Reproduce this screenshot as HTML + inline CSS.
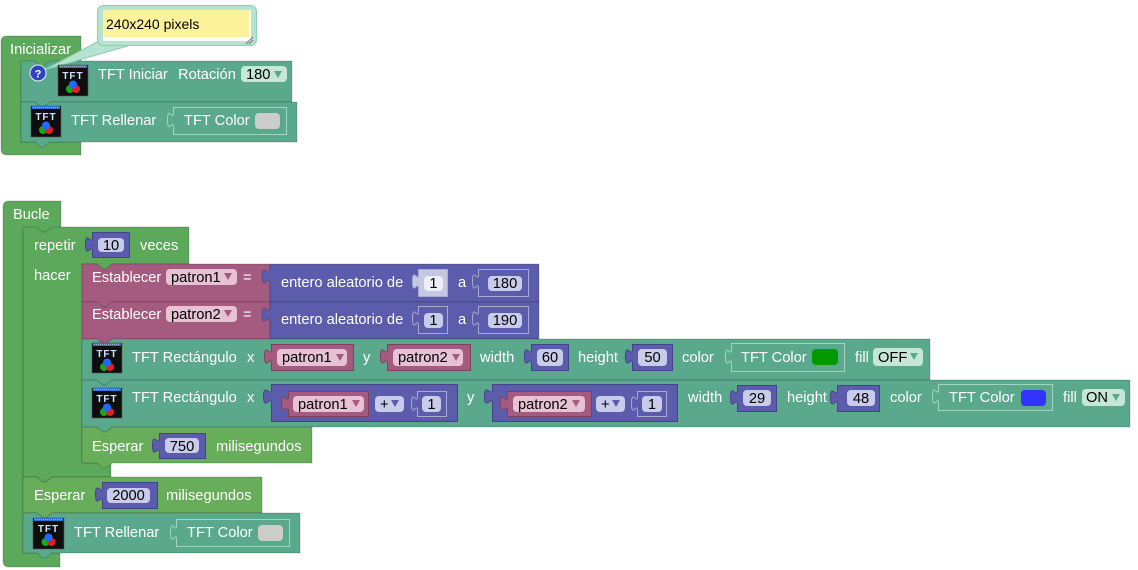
<!DOCTYPE html>
<html><head><meta charset="utf-8">
<style>
html,body{margin:0;padding:0;background:#fff;}
svg{display:block;}
text{font-family:"Liberation Sans",Arial,sans-serif;font-size:14.67px;}
.w{fill:#fff;}
.k{fill:#000;}
.c{text-anchor:middle;}
.blk{stroke:rgba(0,0,0,0.18);stroke-width:1;}
</style></head>
<body>
<svg width="1138" height="570" viewBox="0 0 1138 570" xmlns="http://www.w3.org/2000/svg">

<!-- ===== Inicializar ===== -->
<path class="blk" fill="#5ca95c" d="M1,42 Q1,36 7,36 H81 V68 H21 V142 H81 V155 H7 Q1,155 1,149 Z"/>
<text class="w" x="10" y="54">Inicializar</text>

<!-- TFT Iniciar -->
<path class="blk" fill="#5ba98d" d="M21,61 H35 l6,5 h3 l6,-5 H292 V102 H50 l-6,5 h-3 l-6,-5 H21 Z"/>
<!-- TFT Rellenar -->
<path class="blk" fill="#5ba98d" d="M21,102 H35 l6,5 h3 l6,-5 H297 V142 H50 l-6,5 h-3 l-6,-5 H21 Z"/>

<!-- comment bubble -->
<polygon points="101,40 128,46 44,70" fill="#b6e3d0" stroke="#8fcdb5" stroke-width="1"/>
<rect x="97.5" y="5.5" width="159" height="40" rx="6" fill="#b6e3d0" stroke="#8fcdb5" stroke-width="1"/>
<rect x="103" y="10" width="148" height="31" fill="#fafdfb"/>
<rect x="103" y="10" width="146" height="27" fill="#fdf29c"/>
<text class="k" x="106" y="29" style="font-size:14px">240x240 pixels</text>
<path d="M246,44 L253,37 M249,44 L253,40" stroke="#777" stroke-width="1"/>

<!-- ? icon -->
<circle cx="38" cy="73" r="8" fill="#2f43c2" stroke="#e8eef8" stroke-width="1"/>
<text x="38" y="77.5" class="c" style="font-size:11px;font-weight:bold;fill:#fff">?</text>

<!-- icon Iniciar -->
<g transform="translate(58,65)">
<rect x="0" y="0" width="30" height="31" fill="#0e0e0e" stroke="#555" stroke-width="0.6"/>
<rect x="1" y="0" width="28" height="3" fill="#2d72d6"/>
<line x1="2" y1="1.5" x2="28" y2="1.5" stroke="#bcd" stroke-width="0.8" stroke-dasharray="1,1"/>
<text x="15" y="14" class="c" style="font-size:10px;font-weight:bold;fill:#cfe2ff;letter-spacing:1px">TFT</text>
<circle cx="12" cy="24" r="4" fill="#1aa81a"/><circle cx="18" cy="24" r="4" fill="#e22020"/><circle cx="15" cy="19.5" r="4" fill="#1e6bff"/>
</g>
<text class="w" x="98" y="79">TFT Iniciar</text>
<text class="w" x="178" y="79">Rotación</text>
<rect x="241" y="66" width="46" height="16" rx="4" fill="#c5e6d9"/>
<text class="k" x="246" y="79">180</text>
<polygon points="274,71 282,71 278,78" fill="#5ba98d"/>

<!-- icon Rellenar 1 -->
<g transform="translate(31,106)">
<rect x="0" y="0" width="30" height="31" fill="#0e0e0e" stroke="#555" stroke-width="0.6"/>
<rect x="1" y="0" width="28" height="3" fill="#2d72d6"/>
<line x1="2" y1="1.5" x2="28" y2="1.5" stroke="#bcd" stroke-width="0.8" stroke-dasharray="1,1"/>
<text x="15" y="14" class="c" style="font-size:10px;font-weight:bold;fill:#cfe2ff;letter-spacing:1px">TFT</text>
<circle cx="12" cy="24" r="4" fill="#1aa81a"/><circle cx="18" cy="24" r="4" fill="#e22020"/><circle cx="15" cy="19.5" r="4" fill="#1e6bff"/>
</g>
<text class="w" x="71" y="125">TFT Rellenar</text>
<path fill="#5ba98d" stroke="#a3d6c1" stroke-width="1" d="M173.5,107.5 H286.5 V134.5 H173.5 V127.5 c0,-10 -6,8 -6,-7.5 s6,2.5 6,-7.5 Z"/>
<text class="w" x="184" y="125">TFT Color</text>
<rect x="255" y="113" width="25" height="16" rx="4" fill="#cccccc"/>

<!-- ===== Bucle ===== -->
<path class="blk" fill="#5ca95c" d="M3,207 Q3,201 9,201 H61 V232 H23 V553 H60 V567 H9 Q3,567 3,561 Z"/>
<text class="w" x="13" y="219">Bucle</text>

<!-- repetir C -->
<path class="blk" fill="#5ca95c" d="M23,227 H37 l6,5 h3 l6,-5 H189 V264 H112 l-6,5 h-3 l-6,-5 H82 V463 H111 V477 H52 l-6,5 h-3 l-6,-5 H23 Z"/>
<text class="w" x="34" y="250">repetir</text>
<path fill="#5b5cab" stroke="#43438a" stroke-width="1" d="M92.5,232.5 H129.5 V257.5 H92.5 V252 c0,-10 -7,8 -7,-7.5 s7,2.5 7,-7.5 Z"/>
<rect x="98" y="238" width="26" height="14" rx="4" fill="#c9cbea"/>
<text class="k c" x="111" y="250">10</text>
<text class="w" x="140" y="250">veces</text>
<text class="w" x="34" y="280">hacer</text>

<!-- Establecer 1 -->
<path class="blk" fill="#a55b80" d="M82,264 H97 l6,5 h3 l6,-5 H270 V302 H112 l-6,5 h-3 l-6,-5 H82 Z"/>
<text class="w" x="92" y="282">Establecer</text>
<rect x="166" y="269" width="71" height="16" rx="4" fill="#e6c2d4"/>
<text class="k" x="171" y="282">patron1</text>
<polygon points="224,273 232,273 228,280" fill="#a55b80"/>
<text class="w" x="243" y="282">=</text>
<!-- Establecer 2 -->
<path class="blk" fill="#a55b80" d="M82,302 H97 l6,5 h3 l6,-5 H270 V339 H112 l-6,5 h-3 l-6,-5 H82 Z"/>
<text class="w" x="92" y="319">Establecer</text>
<rect x="166" y="306" width="71" height="16" rx="4" fill="#e6c2d4"/>
<text class="k" x="171" y="319">patron2</text>
<polygon points="224,310 232,310 228,317" fill="#a55b80"/>
<text class="w" x="243" y="319">=</text>

<!-- random 1 -->
<path class="blk" fill="#5b5cab" d="M270,264 H539 V302 H270 V284 c0,-10 -8,8 -8,-7.5 s8,2.5 8,-7.5 Z"/>
<text class="w" x="281" y="287">entero aleatorio de</text>
<path fill="#c6c7e2" stroke="#a9aad0" stroke-width="1" d="M418.5,269.5 H447.5 V296.5 H418.5 V289 c0,-10 -6,8 -6,-7.5 s6,2.5 6,-7.5 Z"/>
<rect x="424" y="276" width="19" height="15" rx="4" fill="#eeeef8"/>
<text class="k c" x="433.5" y="288">1</text>
<text class="w" x="458" y="287">a</text>
<path fill="#5b5cab" stroke="#a9aad0" stroke-width="1" d="M478.5,269.5 H528.5 V296.5 H478.5 V289 c0,-10 -6,8 -6,-7.5 s6,2.5 6,-7.5 Z"/>
<rect x="488" y="276" width="34" height="15" rx="4" fill="#c9cbea"/>
<text class="k c" x="505" y="288">180</text>

<!-- random 2 -->
<path class="blk" fill="#5b5cab" d="M270,302 H539 V339 H270 V322 c0,-10 -8,8 -8,-7.5 s8,2.5 8,-7.5 Z"/>
<text class="w" x="281" y="324">entero aleatorio de</text>
<path fill="#5b5cab" stroke="#a9aad0" stroke-width="1" d="M418.5,306.5 H447.5 V333.5 H418.5 V326 c0,-10 -6,8 -6,-7.5 s6,2.5 6,-7.5 Z"/>
<rect x="424" y="313" width="19" height="15" rx="4" fill="#c9cbea"/>
<text class="k c" x="433.5" y="325">1</text>
<text class="w" x="458" y="324">a</text>
<path fill="#5b5cab" stroke="#a9aad0" stroke-width="1" d="M478.5,306.5 H528.5 V333.5 H478.5 V326 c0,-10 -6,8 -6,-7.5 s6,2.5 6,-7.5 Z"/>
<rect x="488" y="313" width="34" height="15" rx="4" fill="#c9cbea"/>
<text class="k c" x="505" y="325">190</text>

<!-- ===== TFT Rectangulo 1 ===== -->
<path class="blk" fill="#5ba98d" d="M82,339 H97 l6,5 h3 l6,-5 H930 V380 H112 l-6,5 h-3 l-6,-5 H82 Z"/>
<g transform="translate(92,343)">
<rect x="0" y="0" width="30" height="30" fill="#0e0e0e" stroke="#555" stroke-width="0.6"/>
<rect x="1" y="0" width="28" height="3" fill="#2d72d6"/>
<line x1="2" y1="1.5" x2="28" y2="1.5" stroke="#bcd" stroke-width="0.8" stroke-dasharray="1,1"/>
<text x="15" y="14" class="c" style="font-size:10px;font-weight:bold;fill:#cfe2ff;letter-spacing:1px">TFT</text>
<circle cx="12" cy="24" r="4" fill="#1aa81a"/><circle cx="18" cy="24" r="4" fill="#e22020"/><circle cx="15" cy="19.5" r="4" fill="#1e6bff"/>
</g>
<text class="w" x="132" y="362">TFT Rectángulo</text>
<text class="w" x="247" y="362">x</text>
<path fill="#a55b80" stroke="#7d4060" stroke-width="1" d="M271.5,344.5 H353.5 V370.5 H271.5 V364 c0,-10 -7,8 -7,-7.5 s7,2.5 7,-7.5 Z"/>
<rect x="277" y="349" width="70" height="17" rx="4" fill="#e6c2d4"/>
<text class="k" x="282" y="362">patron1</text>
<polygon points="336,354 344,354 340,361" fill="#a55b80"/>
<text class="w" x="363" y="362">y</text>
<path fill="#a55b80" stroke="#7d4060" stroke-width="1" d="M387.5,344.5 H470.5 V370.5 H387.5 V364 c0,-10 -7,8 -7,-7.5 s7,2.5 7,-7.5 Z"/>
<rect x="393" y="349" width="70" height="17" rx="4" fill="#e6c2d4"/>
<text class="k" x="398" y="362">patron2</text>
<polygon points="452,354 460,354 456,361" fill="#a55b80"/>
<text class="w" x="480" y="362">width</text>
<path fill="#5b5cab" stroke="#43438a" stroke-width="1" d="M531.5,344.5 H568.5 V370.5 H531.5 V364 c0,-10 -7,8 -7,-7.5 s7,2.5 7,-7.5 Z"/>
<rect x="537" y="349" width="26" height="17" rx="4" fill="#c9cbea"/>
<text class="k c" x="550" y="362">60</text>
<text class="w" x="578" y="362">height</text>
<path fill="#5b5cab" stroke="#43438a" stroke-width="1" d="M632.5,344.5 H672.5 V370.5 H632.5 V364 c0,-10 -7,8 -7,-7.5 s7,2.5 7,-7.5 Z"/>
<rect x="638" y="349" width="29" height="17" rx="4" fill="#c9cbea"/>
<text class="k c" x="652.5" y="362">50</text>
<text class="w" x="682" y="362">color</text>
<path fill="#5ba98d" stroke="#a3d6c1" stroke-width="1" d="M731.5,343.5 H844.5 V371.5 H731.5 V364 c0,-10 -6,8 -6,-7.5 s6,2.5 6,-7.5 Z"/>
<text class="w" x="741" y="362">TFT Color</text>
<rect x="812" y="349" width="26" height="16" rx="4" fill="#009900"/>
<text class="w" x="855" y="362">fill</text>
<rect x="873" y="348" width="50" height="18" rx="4" fill="#c5e6d9"/>
<text class="k" x="878" y="362">OFF</text>
<polygon points="910,353 918,353 914,360" fill="#5ba98d"/>

<!-- ===== TFT Rectangulo 2 ===== -->
<path class="blk" fill="#5ba98d" d="M82,380 H97 l6,5 h3 l6,-5 H1130 V427 H112 l-6,5 h-3 l-6,-5 H82 Z"/>
<g transform="translate(92,388)">
<rect x="0" y="0" width="30" height="30" fill="#0e0e0e" stroke="#555" stroke-width="0.6"/>
<rect x="1" y="0" width="28" height="3" fill="#2d72d6"/>
<line x1="2" y1="1.5" x2="28" y2="1.5" stroke="#bcd" stroke-width="0.8" stroke-dasharray="1,1"/>
<text x="15" y="14" class="c" style="font-size:10px;font-weight:bold;fill:#cfe2ff;letter-spacing:1px">TFT</text>
<circle cx="12" cy="24" r="4" fill="#1aa81a"/><circle cx="18" cy="24" r="4" fill="#e22020"/><circle cx="15" cy="19.5" r="4" fill="#1e6bff"/>
</g>
<text class="w" x="132" y="402">TFT Rectángulo</text>
<text class="w" x="247" y="402">x</text>
<!-- + block 1 -->
<path fill="#5b5cab" stroke="#43438a" stroke-width="1" d="M271.5,384.5 H457.5 V421.5 H271.5 V404 c0,-10 -8,8 -8,-7.5 s8,2.5 8,-7.5 Z"/>
<path fill="#a55b80" stroke="#7d4060" stroke-width="1" d="M288.5,391.5 H368.5 V416.5 H288.5 V411 c0,-10 -7,8 -7,-7.5 s7,2.5 7,-7.5 Z"/>
<rect x="293" y="396" width="71" height="16" rx="4" fill="#e6c2d4"/>
<text class="k" x="298" y="409">patron1</text>
<polygon points="352,400 360,400 356,407" fill="#a55b80"/>
<rect x="375" y="396" width="29" height="16" rx="4" fill="#c9cbea"/>
<text class="k" x="380" y="409">+</text>
<polygon points="391,400 399,400 395,407" fill="#5b5cab"/>
<path fill="#5b5cab" stroke="#a9aad0" stroke-width="1" d="M417.5,391.5 H446.5 V416.5 H417.5 V411 c0,-10 -6,8 -6,-7.5 s6,2.5 6,-7.5 Z"/>
<rect x="422" y="396" width="19" height="16" rx="4" fill="#c9cbea"/>
<text class="k c" x="431.5" y="409">1</text>
<text class="w" x="467" y="402">y</text>
<!-- + block 2 -->
<path fill="#5b5cab" stroke="#43438a" stroke-width="1" d="M492.5,384.5 H677.5 V421.5 H492.5 V404 c0,-10 -8,8 -8,-7.5 s8,2.5 8,-7.5 Z"/>
<path fill="#a55b80" stroke="#7d4060" stroke-width="1" d="M507.5,391.5 H591.5 V416.5 H507.5 V411 c0,-10 -7,8 -7,-7.5 s7,2.5 7,-7.5 Z"/>
<rect x="513" y="396" width="72" height="16" rx="4" fill="#e6c2d4"/>
<text class="k" x="518" y="409">patron2</text>
<polygon points="572,400 580,400 576,407" fill="#a55b80"/>
<rect x="596" y="396" width="29" height="16" rx="4" fill="#c9cbea"/>
<text class="k" x="601" y="409">+</text>
<polygon points="612,400 620,400 616,407" fill="#5b5cab"/>
<path fill="#5b5cab" stroke="#a9aad0" stroke-width="1" d="M637.5,391.5 H666.5 V416.5 H637.5 V411 c0,-10 -6,8 -6,-7.5 s6,2.5 6,-7.5 Z"/>
<rect x="642" y="396" width="20" height="16" rx="4" fill="#c9cbea"/>
<text class="k c" x="652" y="409">1</text>
<text class="w" x="688" y="402">width</text>
<path fill="#5b5cab" stroke="#43438a" stroke-width="1" d="M737.5,385.5 H776.5 V411.5 H737.5 V405 c0,-10 -7,8 -7,-7.5 s7,2.5 7,-7.5 Z"/>
<rect x="743" y="390" width="28" height="16" rx="4" fill="#c9cbea"/>
<text class="k c" x="757" y="403">29</text>
<text class="w" x="787" y="402">height</text>
<path fill="#5b5cab" stroke="#43438a" stroke-width="1" d="M837.5,385.5 H879.5 V411.5 H837.5 V405 c0,-10 -7,8 -7,-7.5 s7,2.5 7,-7.5 Z"/>
<rect x="847" y="390" width="28" height="16" rx="4" fill="#c9cbea"/>
<text class="k c" x="861" y="403">48</text>
<text class="w" x="890" y="402">color</text>
<path fill="#5ba98d" stroke="#a3d6c1" stroke-width="1" d="M938.5,384.5 H1052.5 V410.5 H938.5 V404 c0,-10 -6,8 -6,-7.5 s6,2.5 6,-7.5 Z"/>
<text class="w" x="949" y="402">TFT Color</text>
<rect x="1021" y="390" width="25" height="16" rx="4" fill="#3333ff"/>
<text class="w" x="1063" y="402">fill</text>
<rect x="1082" y="389" width="43" height="17" rx="4" fill="#c5e6d9"/>
<text class="k" x="1086" y="402">ON</text>
<polygon points="1112,394 1120,394 1116,401" fill="#5ba98d"/>

<!-- Esperar 750 -->
<path class="blk" fill="#67ad5a" d="M82,427 H97 l6,5 h3 l6,-5 H312 V463 H112 l-6,5 h-3 l-6,-5 H82 Z"/>
<text class="w" x="92" y="451">Esperar</text>
<path fill="#5b5cab" stroke="#43438a" stroke-width="1" d="M159.5,433.5 H205.5 V458.5 H159.5 V453 c0,-10 -7,8 -7,-7.5 s7,2.5 7,-7.5 Z"/>
<rect x="165" y="438" width="34" height="15" rx="4" fill="#c9cbea"/>
<text class="k c" x="182" y="451">750</text>
<text class="w" x="216" y="451">milisegundos</text>

<!-- Esperar 2000 -->
<path class="blk" fill="#67ad5a" d="M23,477 H37 l6,5 h3 l6,-5 H262 V513 H52 l-6,5 h-3 l-6,-5 H23 Z"/>
<text class="w" x="34" y="500">Esperar</text>
<path fill="#5b5cab" stroke="#43438a" stroke-width="1" d="M102.5,482.5 H157.5 V508.5 H102.5 V502 c0,-10 -7,8 -7,-7.5 s7,2.5 7,-7.5 Z"/>
<rect x="107" y="488" width="43" height="15" rx="4" fill="#c9cbea"/>
<text class="k c" x="128.5" y="500">2000</text>
<text class="w" x="166" y="500">milisegundos</text>

<!-- TFT Rellenar 2 -->
<path class="blk" fill="#5ba98d" d="M23,513 H37 l6,5 h3 l6,-5 H300 V553 H52 l-6,5 h-3 l-6,-5 H23 Z"/>
<g transform="translate(33,518)">
<rect x="0" y="0" width="31" height="31" fill="#0e0e0e" stroke="#555" stroke-width="0.6"/>
<rect x="1" y="0" width="29" height="3" fill="#2d72d6"/>
<line x1="2" y1="1.5" x2="29" y2="1.5" stroke="#bcd" stroke-width="0.8" stroke-dasharray="1,1"/>
<text x="15.5" y="14" class="c" style="font-size:10px;font-weight:bold;fill:#cfe2ff;letter-spacing:1px">TFT</text>
<circle cx="12.5" cy="24" r="4" fill="#1aa81a"/><circle cx="18.5" cy="24" r="4" fill="#e22020"/><circle cx="15.5" cy="19.5" r="4" fill="#1e6bff"/>
</g>
<text class="w" x="74" y="537">TFT Rellenar</text>
<path fill="#5ba98d" stroke="#a3d6c1" stroke-width="1" d="M176.5,519.5 H289.5 V546.5 H176.5 V540 c0,-10 -6,8 -6,-7.5 s6,2.5 6,-7.5 Z"/>
<text class="w" x="187" y="537">TFT Color</text>
<rect x="258" y="525" width="25" height="16" rx="4" fill="#cccccc"/>

</svg>
</body></html>
